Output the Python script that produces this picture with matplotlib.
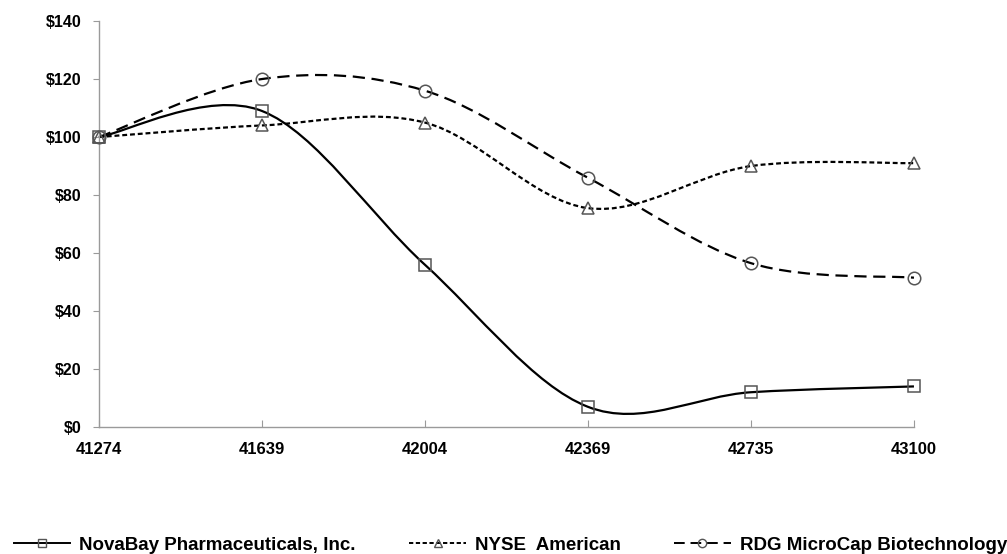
import matplotlib
matplotlib.use("Agg")
import matplotlib.pyplot as plt
from matplotlib.path import Path
from matplotlib.patches import PathPatch
from matplotlib.lines import Line2D
import numpy as np

plt.rcParams['font.family'] = ['Liberation Sans', 'DejaVu Sans']

x_vals = [41274, 41639, 42004, 42369, 42735, 43100]
novabay = [100, 109, 56, 7, 12, 14]
nyse = [100, 104, 105, 75.5, 90, 91]
rdg = [100, 120, 116, 86, 56.5, 51.5]
series_names = ["NovaBay Pharmaceuticals, Inc.", "NYSE  American", "RDG MicroCap Biotechnology"]
y_ticks = [0, 20, 40, 60, 80, 100, 120, 140]


def smooth_path(xs, ys):
    pts = np.column_stack([xs, ys]).astype(float)
    n = len(pts)
    verts = [pts[0]]
    codes = [Path.MOVETO]
    for i in range(n - 1):
        p0 = pts[i - 1] if i > 0 else pts[i]
        p1 = pts[i]
        p2 = pts[i + 1]
        p3 = pts[i + 2] if i + 2 < n else pts[i + 1]
        c1 = p1 + (p2 - p0) / 6.0
        c2 = p2 - (p3 - p1) / 6.0
        verts += [c1, c2, p2]
        codes += [Path.CURVE4] * 3
    return Path(verts, codes)


fig = plt.figure(figsize=(10.07, 5.54), dpi=100)
ax = fig.add_axes([0.0983, 0.2292, 0.8093, 0.7328])

styles = [
    dict(marker='s', dashes=None),
    dict(marker='^', dashes=(2.2, 1.3)),
    dict(marker='o', dashes=(5.5, 3.0)),
]
data = [novabay, nyse, rdg]
handles = []
for ys, st, name in zip(data, styles, series_names):
    path = smooth_path(x_vals, ys)
    patch = PathPatch(path, facecolor='none', edgecolor='black', lw=1.6,
                      zorder=2, clip_on=False)
    if st['dashes'] is not None:
        patch.set_linestyle((0, st['dashes']))
    ax.add_patch(patch)
    ax.plot(x_vals, ys, ls='none', marker=st['marker'], ms=9,
            mfc='none', mec='#555555', mew=1.1, zorder=3, clip_on=False)
    h = Line2D([0], [0], color='black', lw=1.4, marker=st['marker'], ms=6,
               mfc='none', mec='#555555', mew=1.0)
    if st['dashes'] is not None:
        h.set_dashes(st['dashes'])
    handles.append(h)

ax.set_xlim(x_vals[0], x_vals[-1])
ax.set_ylim(0, 140)
ax.set_yticks(y_ticks)
ax.set_yticklabels([f"${v}" for v in y_ticks])
ax.set_xticks(x_vals)
ax.set_xticklabels([str(v) for v in x_vals])

for s in ['top', 'right']:
    ax.spines[s].set_visible(False)
for s in ['left', 'bottom']:
    ax.spines[s].set_color('#9a9a9a')
    ax.spines[s].set_linewidth(1.0)
ax.tick_params(axis='y', direction='out', length=4, color='#9a9a9a', pad=8.5,
               labelsize=11.5)
ax.tick_params(axis='x', direction='in', length=5, color='#9a9a9a', pad=10.5,
               labelsize=12)
for lbl in ax.get_xticklabels() + ax.get_yticklabels():
    lbl.set_fontweight('bold')

leg = fig.legend(handles, series_names, loc='center', ncol=3,
                 bbox_to_anchor=(0.507, 0.016), frameon=False, handlelength=3.0,
                 handletextpad=0.5, columnspacing=2.85, borderpad=0.0,
                 prop=dict(weight='bold', size=13.5))

fig.savefig("out.png", dpi=100)
